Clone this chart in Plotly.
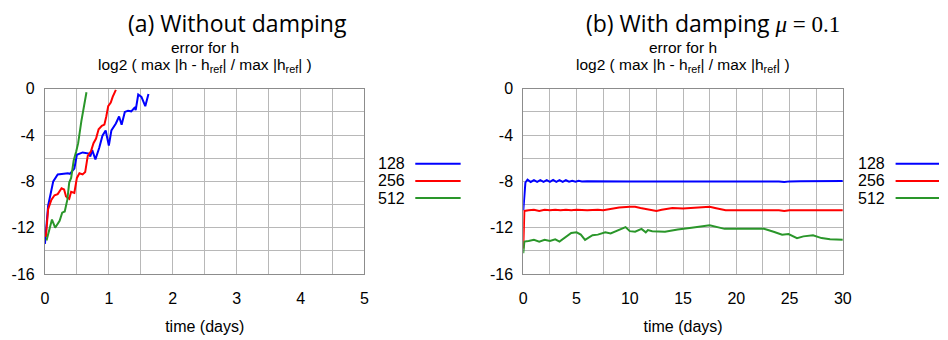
import plotly.graph_objects as go

# ---- series: resolution labels and colours ----
resolutions = ["128", "256", "512"]
colors = ["#0000ff", "#ff0000", "#2a962a"]

# ---- (a) without damping: log2 relative error of h vs time (days) ----
t_a_128 = [0, 0.05, 0.13, 0.2, 0.36, 0.39, 0.46, 0.5, 0.59, 0.69, 0.71, 0.74, 0.79, 0.85, 0.9,
           0.95, 1.0, 1.04, 1.11, 1.16, 1.2, 1.25, 1.3, 1.35, 1.41, 1.42, 1.46, 1.51, 1.57, 1.62]
e_a_128 = [-13.4, -10.1, -8.0, -7.4, -7.3, -7.35, -6.9, -5.7, -5.5, -5.6, -5.85, -5.3, -6.1, -5.1, -4.05,
           -3.6, -4.9, -3.6, -3.0, -2.4, -3.1, -2.0, -1.9, -1.95, -1.6, -1.85, -0.5, -0.7, -1.5, -0.46]
t_a_256 = [0.015, 0.05, 0.1, 0.15, 0.2, 0.26, 0.3, 0.33, 0.38, 0.41, 0.46, 0.5, 0.54, 0.59,
           0.63, 0.67, 0.72, 0.76, 0.8, 0.84, 0.89, 0.93, 0.96, 0.99, 1.03, 1.06, 1.11]
e_a_256 = [-12.8, -10.4, -9.6, -9.2, -9.1, -8.6, -8.7, -9.3, -9.5, -8.9, -9.0, -7.7, -7.3, -7.4,
           -7.2, -5.8, -5.4, -4.7, -4.3, -3.5, -3.2, -3.1, -2.4, -1.5, -1.2, -0.7, -0.1]
t_a_512 = [0.025, 0.07, 0.11, 0.16, 0.23, 0.27, 0.31, 0.35, 0.38, 0.41, 0.45, 0.49, 0.52, 0.57, 0.61, 0.65]
e_a_512 = [-13.1, -12.0, -11.3, -12.0, -11.4, -10.7, -10.6, -9.6, -8.1, -7.7, -6.2, -5.4, -4.7, -2.8, -1.5, -0.3]

# ---- (b) with damping mu = 0.1 ----
t_b_128 = [0, 0.1, 0.2, 0.4, 0.7, 1.0, 1.3, 1.6, 1.9, 2.2, 2.5, 2.8, 3.1, 3.4, 3.7, 4.0, 4.3, 4.6,
           4.9, 5.2, 5.5, 6, 7, 8, 9, 10, 11, 12, 12.5, 13, 14, 15, 16, 17, 18, 19, 20, 21, 22,
           23, 24, 24.5, 25, 26, 27, 28, 29, 30]
e_b_128 = [-10.5, -8.8, -8.1, -7.85, -8.05, -7.9, -8.05, -7.9, -8.05, -7.9, -8.05, -7.88, -8.05,
           -7.9, -8.05, -7.9, -8.02, -7.95, -8.02, -7.95, -8.0, -7.98, -8.0, -7.98, -8.0, -8.0,
           -8.0, -8.02, -8.05, -8.02, -8.0, -8.0, -7.98, -7.98, -7.98, -7.98, -7.98, -7.98, -7.98,
           -8.0, -8.02, -8.05, -8.0, -7.98, -7.98, -7.98, -7.97, -7.97]
t_b_256 = [0, 0.1, 0.5, 1, 1.5, 2, 2.5, 3, 3.5, 4, 4.5, 5, 6, 7, 7.5, 8, 9, 10, 10.5, 11, 12,
           12.5, 13, 14, 15, 16, 17, 17.5, 18, 19, 20, 21, 22, 23, 24, 24.5, 25, 26, 27, 28, 29, 30]
e_b_256 = [-13.8, -10.55, -10.5, -10.45, -10.55, -10.45, -10.5, -10.45, -10.5, -10.45, -10.5,
           -10.45, -10.5, -10.45, -10.5, -10.4, -10.25, -10.2, -10.2, -10.3, -10.5, -10.55, -10.45,
           -10.3, -10.35, -10.3, -10.25, -10.2, -10.3, -10.5, -10.5, -10.5, -10.45, -10.5, -10.5,
           -10.55, -10.5, -10.5, -10.5, -10.5, -10.5, -10.5]
t_b_512 = [0, 0.1, 0.5, 1, 1.5, 2, 2.5, 3, 3.4, 4, 4.5, 5, 5.4, 5.8, 6.5, 7, 7.7, 8.2, 9, 9.6,
           10, 10.5, 11.1, 11.5, 11.7, 12.1, 13.3, 14.5, 15.8, 17.5, 18.9, 20.1, 21.3, 22.6, 23.5,
           24.3, 24.9, 25.7, 26.3, 27.2, 28, 28.8, 30]
e_b_512 = [-14.2, -13.2, -13.15, -13.05, -13.2, -13.05, -13.15, -13.0, -13.2, -12.8, -12.45, -12.4,
           -12.6, -13.05, -12.65, -12.6, -12.4, -12.5, -12.2, -11.95, -12.3, -12.35, -12.1, -12.4,
           -12.2, -12.3, -12.35, -12.15, -12.0, -11.8, -12.1, -12.1, -12.15, -12.1, -12.35, -12.6,
           -12.55, -12.9, -12.75, -12.65, -12.9, -13.0, -13.05]

y_ticks = [0, -4, -8, -12, -16]
x_ticks_a = [0, 1, 2, 3, 4, 5]
x_ticks_b = [0, 5, 10, 15, 20, 25, 30]

W, H = 948, 340
SANS = "Liberation Sans, Arial, sans-serif"
TICK_FONT = dict(family=SANS, size=16, color="#000000")
TITLE_FONT = "Open Sans, Noto Sans, sans-serif"
GRID = "#b8b8b8"

fig = go.Figure()

panel_a = [(t_a_128, e_a_128), (t_a_256, e_a_256), (t_a_512, e_a_512)]
panel_b = [(t_b_128, e_b_128), (t_b_256, e_b_256), (t_b_512, e_b_512)]
for (tx, ey), name, c in zip(panel_a, resolutions, colors):
    fig.add_trace(go.Scatter(x=tx, y=ey, mode="lines", name=name, showlegend=False,
                             line=dict(color=c, width=2), xaxis="x", yaxis="y"))
for (tx, ey), name, c in zip(panel_b, resolutions, colors):
    fig.add_trace(go.Scatter(x=tx, y=ey, mode="lines", name=name, showlegend=False,
                             line=dict(color=c, width=2), xaxis="x2", yaxis="y2"))

# plot areas in pixels: left/right edges and top/bottom
ax_a = (41.5, 365.5)
ax_b = (526.5, 850.5)
top, bottom = 85, 280
ydom = [1 - bottom / H, 1 - top / H]

def xaxis(dom, rng, ticks, minor_step):
    return dict(domain=[dom[0] / W, dom[1] / W], range=rng, tickvals=ticks,
                ticktext=[str(v) for v in ticks], showgrid=True, gridcolor=GRID,
                gridwidth=1, minor=dict(dtick=minor_step, tick0=0, showgrid=True,
                                        gridcolor=GRID, gridwidth=1),
                showline=True, linecolor="#8c8c8c", linewidth=1, mirror=True,
                zeroline=False, ticks="", tickfont=TICK_FONT, ticklabelstandoff=10,
                title=dict(text="time (days)", font=TICK_FONT, standoff=14))

def yaxis(anchor):
    return dict(domain=ydom, range=[-16, 0], tickvals=y_ticks,
                ticktext=[str(v) for v in y_ticks], showgrid=True, gridcolor=GRID,
                minor=dict(dtick=2, tick0=0, showgrid=True, gridcolor=GRID),
                showline=True, linecolor="#8c8c8c", linewidth=1, mirror=True,
                zeroline=False, ticks="", tickfont=TICK_FONT, anchor=anchor,
                ticklabelstandoff=6)

fig.update_layout(
    width=W, height=H, margin=dict(l=0, r=0, t=0, b=0),
    paper_bgcolor="white", plot_bgcolor="white", showlegend=False,
    xaxis=xaxis(ax_a, [0, 5], x_ticks_a, 0.5) | dict(anchor="y"),
    yaxis=yaxis("x"),
    xaxis2=xaxis(ax_b, [0, 30], x_ticks_b, 2.5) | dict(anchor="y2"),
    yaxis2=yaxis("x2"),
)

annotations = []
shapes = []

def px_ann(x, y, text, size, family, xanchor="center"):
    annotations.append(dict(x=x / W, y=1 - y / H, xref="paper", yref="paper", text=text,
                            showarrow=False, xanchor=xanchor, yanchor="middle",
                            font=dict(family=family, size=size, color="#000000")))

# panel titles
px_ann(237, 15.5, "(a) Without damping", 23, TITLE_FONT)
px_ann(719, 15.5,
       "(b) With damping <span style='font-family:Liberation Serif'><i>μ</i> = 0.1</span>",
       23, TITLE_FONT)

# y-quantity headings above each plot area
sub = "log2 ( max |h - h<sub>ref</sub>| / max |h<sub>ref</sub>| )"
for (l, r) in (ax_a, ax_b):
    c = (l + r) / 2
    px_ann(c, 42, "error for h", 15.5, SANS)
    px_ann(c, 61, sub, 15.5, SANS)

# key: label followed by a coloured line sample, to the right of each panel
for text_right, line_x0, line_x1 in ((409, 417, 463), (895, 904, 948)):
    for i, (name, c) in enumerate(zip(resolutions, colors)):
        yy = 164 + 18 * i
        px_ann(text_right, yy, name, 16, SANS, xanchor="right")
        shapes.append(dict(type="line", xref="paper", yref="paper",
                           x0=line_x0 / W, x1=line_x1 / W, y0=1 - yy / H, y1=1 - yy / H,
                           line=dict(color=c, width=2)))

fig.update_layout(annotations=annotations, shapes=shapes)
fig.write_html("out.html")
